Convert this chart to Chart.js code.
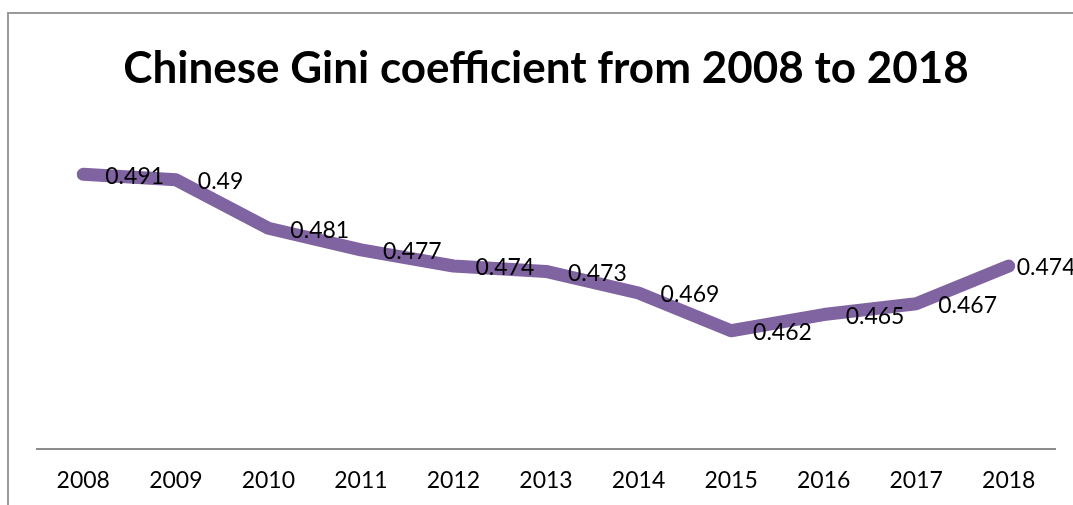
<!DOCTYPE html>
<html>
<head>
<meta charset="utf-8">
<script src="https://cdn.jsdelivr.net/npm/chart.js@4/dist/chart.umd.min.js"></script>
<style>
  html, body { margin: 0; padding: 0; background: #fff; overflow: hidden; }
  #wrap { position: relative; width: 1073px; height: 505px; overflow: hidden; }
  #frame { position: absolute; left: 7px; top: 12px; width: 1200px; height: 600px;
           border: 2px solid #9a9a9a; box-sizing: border-box; }
  canvas { position: absolute; left: 0; top: 0; }
</style>
</head>
<body>
<div id="wrap">
  <div id="frame"></div>
  <canvas id="chart" width="1073" height="523"></canvas>
</div>
<script>
const years = ['2008', '2009', '2010', '2011', '2012', '2013', '2014', '2015', '2016', '2017', '2018'];
const gini = [0.491, 0.49, 0.481, 0.477, 0.474, 0.473, 0.469, 0.462, 0.465, 0.467, 0.474];
const yMin = 0.44;
const yMax = 0.50;

const FONT = 'Lato, "Open Sans", sans-serif';

// value labels to the right of each point
const pointLabels = {
  id: 'pointLabels',
  afterDatasetsDraw(chart) {
    const ctx = chart.ctx;
    const meta = chart.getDatasetMeta(0);
    ctx.save();
    ctx.font = '23px ' + FONT;
    ctx.fillStyle = '#000';
    ctx.textAlign = 'left';
    ctx.textBaseline = 'middle';
    meta.data.forEach((pt, i) => {
      const off = i === meta.data.length - 1 ? 8 : 22;
      ctx.fillText(String(gini[i]), pt.x + off, pt.y + 2);
    });
    ctx.restore();
  }
};

new Chart(document.getElementById('chart').getContext('2d'), {
  type: 'line',
  data: {
    labels: years,
    datasets: [{
      data: gini,
      borderColor: '#8064A2',
      borderWidth: 13,
      borderCapStyle: 'round',
      borderJoinStyle: 'round',
      pointRadius: 0,
      tension: 0,
      fill: false,
    }],
  },
  options: {
    responsive: false,
    animation: false,
    layout: { padding: { left: 37, right: 18, top: 20, bottom: 12 } },
    plugins: {
      legend: { display: false },
      tooltip: { enabled: false },
      title: {
        display: true,
        text: 'Chinese Gini coefficient from 2008 to 2018',
        color: '#000',
        font: { family: FONT, size: 44, weight: 'bold' },
        padding: { top: 22, bottom: 31 },
      },
    },
    scales: {
      x: {
        offset: true,
        grid: { display: false, drawTicks: false },
        border: { display: true, color: '#8c8c8c', width: 2 },
        ticks: { color: '#000', font: { family: FONT, size: 23 }, padding: 17, maxRotation: 0 },
      },
      y: {
        display: false,
        min: yMin,
        max: yMax,
      },
    },
  },
  plugins: [pointLabels],
});
</script>
</body>
</html>
